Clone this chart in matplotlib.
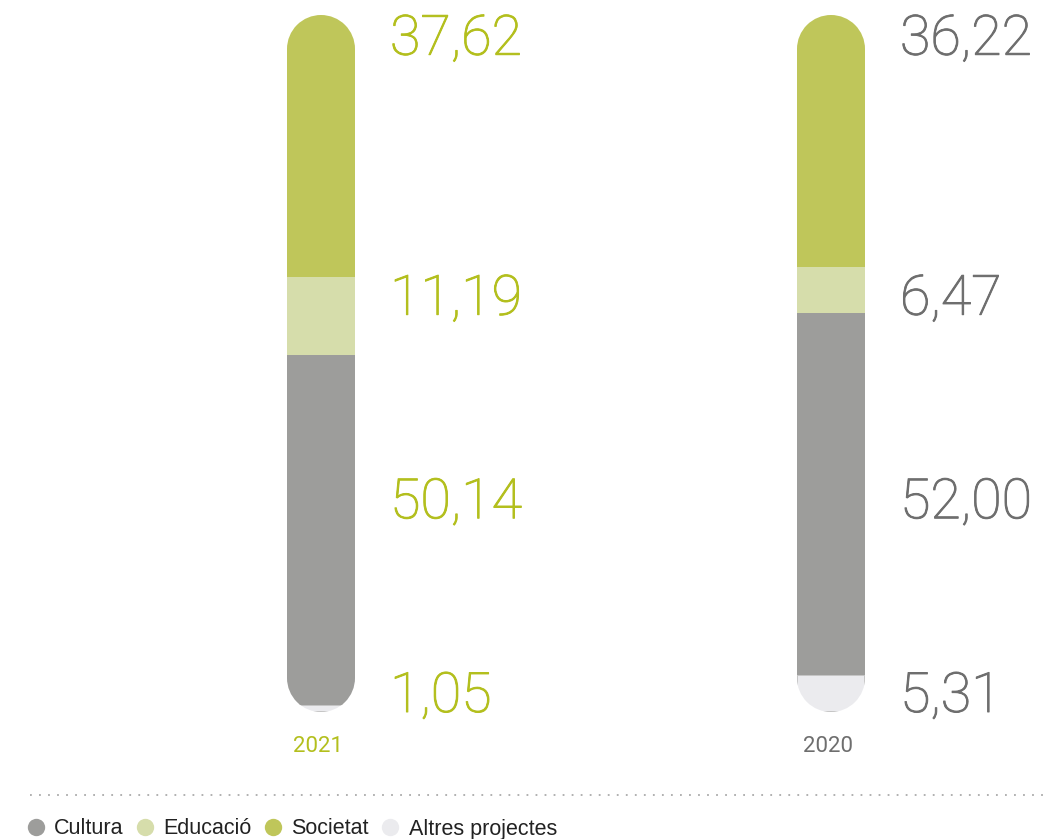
import numpy as np
import matplotlib.pyplot as plt
import matplotlib.patheffects as pe
from matplotlib.patches import PathPatch
from matplotlib.path import Path
from matplotlib.transforms import Affine2D
from matplotlib.lines import Line2D

years = ['2021', '2020']
categories = ['Altres projectes', 'Cultura', 'Educació', 'Societat']
values = {
    '2021': [1.05, 50.14, 11.19, 37.62],
    '2020': [5.31, 52.00, 6.47, 36.22],
}
labels = {
    '2021': ['1,05', '50,14', '11,19', '37,62'],
    '2020': ['5,31', '52,00', '6,47', '36,22'],
}
# fixed rows where the value labels sit (baseline, in % of bar height)
label_rows = [0, 27.8, 57.0, 94.3]

colors = {'Cultura': '#9d9d9b', 'Educació': '#d6ddab',
          'Societat': '#bfc65a', 'Altres projectes': '#ebebee'}
text_colors = {'2021': '#b3bf1d', '2020': '#6e6e6e'}

W, H = 1043, 839
fig = plt.figure(figsize=(W / 100, H / 100), dpi=100)
top_px, bot_px = 15, 712
ax = fig.add_axes([0, (H - bot_px) / H, 1, (bot_px - top_px) / H])
px_x = 510.0                      # pixels per x unit
px_y = (bot_px - top_px) / 100.0  # pixels per y unit
ax.set_xlim(-321 / px_x, (W - 321) / px_x)
ax.set_ylim(0, 100)
ax.axis('off')

bw = 68 / px_x
rx = bw / 2
ry = 34 / px_y


def pill_path(xc):
    top = Path.arc(0, 180).transformed(Affine2D().scale(rx, ry).translate(xc, 100 - ry))
    bot = Path.arc(180, 360).transformed(Affine2D().scale(rx, ry).translate(xc, ry))
    verts = np.concatenate([top.vertices, bot.vertices, top.vertices[:1]])
    codes = np.concatenate([top.codes, bot.codes, [Path.CLOSEPOLY]])
    codes[len(top.codes)] = Path.LINETO
    return Path(verts, codes)


for i, yr in enumerate(years):
    pill = PathPatch(pill_path(i), transform=ax.transData,
                     facecolor='none', edgecolor='none')
    ax.add_patch(pill)
    bottom = 0
    for cat, v in zip(categories, values[yr]):
        ec = '#c4c4c4' if cat == 'Altres projectes' else 'none'
        b = ax.bar(i, v, bw, bottom=bottom, color=colors[cat],
                   edgecolor=ec, linewidth=1.4)
        for r in b:
            r.set_clip_path(pill)
        bottom += v
    for lab, y in zip(labels[yr], label_rows):
        t = ax.text(i + bw / 2 + 35 / px_x, y, lab, fontsize=40, family='Roboto',
                    fontweight='light', color=text_colors[yr], va='baseline', ha='left')
        t.set_path_effects([pe.withStroke(linewidth=0.7, foreground=text_colors[yr])])
    ax.text(i - 3 / px_x, -40 / px_y, yr, fontsize=16, family='Roboto',
            color=text_colors[yr], va='baseline', ha='center')

fig.add_artist(Line2D([30 / W, 1], [1 - 795 / H] * 2, transform=fig.transFigure,
                      color='#aaaaaa', linestyle=(0, (1, 4)), linewidth=1.3))

order = ['Cultura', 'Educació', 'Societat', 'Altres projectes']
handles = [Line2D([], [], marker='o', linestyle='none', markersize=12.5,
                  markerfacecolor=colors[c], markeredgecolor='none') for c in order]
fig.legend(handles, order, loc='center left', bbox_to_anchor=(25 / W, 1 - 829 / H),
           ncol=4, frameon=False, handletextpad=0.35, columnspacing=0.5,
           handlelength=1.0, borderaxespad=0, borderpad=0,
           prop={'family': 'Liberation Sans', 'size': 15.5}, labelcolor='#222222')

fig.savefig('out.png', dpi=100)
